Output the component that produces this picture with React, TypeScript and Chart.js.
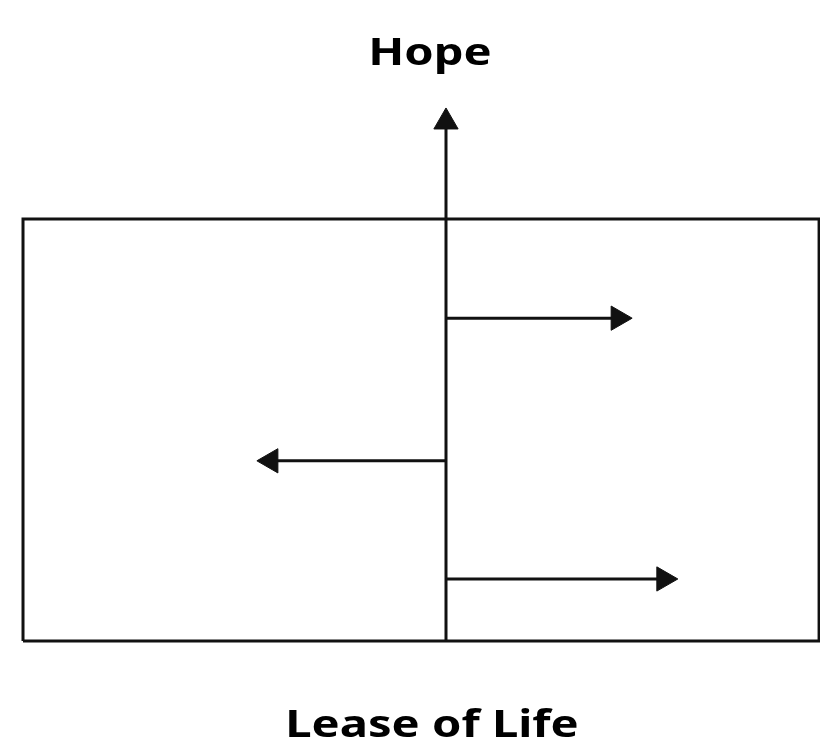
import React, { useEffect, useRef } from "react";
import { Chart, registerables } from "chart.js";

Chart.register(...registerables);

// Diagram values in abstract units: x = "Lease of Life" direction, y = "Hope" direction
const titleTop = "Hope";
const titleBottom = "Lease of Life";

const frameX = [-10, -10, 8.82, 8.82, -10];
const frameY = [0, 10, 10, 0, 0];

const stemX = [0, 0];
const stemY = [0, 12.3];

const arrowStartX = [0, 0, 0];
const arrowEndX = [4.07, -4.14, 5.15];
const arrowY = [7.65, 4.27, 1.47];

const xRange = [-10.544, 8.842];
const yRange = [-2.346, 15.19];

const INK = "#111111";

export default function App() {
  const canvasRef = useRef<HTMLCanvasElement | null>(null);

  useEffect(() => {
    document.body.style.margin = "0";
    const canvas = canvasRef.current;
    if (!canvas) return;

    const arrowDataset = (pts: { x: number; y: number }[], rotation: number) => ({
      data: pts,
      showLine: true,
      borderColor: INK,
      borderWidth: 3,
      pointRadius: (c: any) => (c.dataIndex === pts.length - 1 ? 14 : 0),
      pointHoverRadius: 0,
      pointStyle: "triangle" as const,
      pointRotation: rotation,
      pointBackgroundColor: INK,
      pointBorderColor: INK,
      pointBorderWidth: 1,
      clip: false as const,
    });

    const datasets: any[] = [
      {
        data: frameX.map((x, i) => ({ x, y: frameY[i] })),
        showLine: true,
        borderColor: INK,
        borderWidth: 3,
        pointRadius: 0,
        pointHoverRadius: 0,
        fill: false,
      },
      arrowDataset(
        stemX.map((x, i) => ({ x, y: stemY[i] })),
        0
      ),
      ...arrowEndX.map((ex, i) =>
        arrowDataset(
          [
            { x: arrowStartX[i], y: arrowY[i] },
            { x: ex, y: arrowY[i] },
          ],
          ex > arrowStartX[i] ? 90 : -90
        )
      ),
    ];

    const chart = new Chart(canvas, {
      type: "scatter",
      data: { datasets },
      options: {
        animation: false,
        responsive: false,
        maintainAspectRatio: false,
        layout: { padding: 0, autoPadding: false },
        events: [],
        plugins: {
          legend: { display: false },
          tooltip: { enabled: false },
          title: { display: false },
        },
        scales: {
          x: { type: "linear", display: false, min: xRange[0], max: xRange[1] },
          y: { type: "linear", display: false, min: yRange[0], max: yRange[1] },
        },
      },
    });
    return () => chart.destroy();
  }, []);

  const textStyle: React.CSSProperties = {
    position: "absolute",
    left: 0,
    width: 820,
    textAlign: "center",
    fontFamily: "'Noto Sans', 'Open Sans', sans-serif",
    fontWeight: 700,
    fontSize: 38,
    lineHeight: "38px",
    color: "#000",
    whiteSpace: "nowrap",
  };

  return (
    <div style={{ position: "relative", width: 820, height: 740, background: "#fff", overflow: "hidden" }}>
      <canvas ref={canvasRef} width={820} height={740} style={{ display: "block" }} />
      <div style={{ ...textStyle, top: 31, transform: "translateX(20px) scaleX(1.24)" }}>{titleTop}</div>
      <div style={{ ...textStyle, top: 703, transform: "translateX(22px) scaleX(1.24)" }}>{titleBottom}</div>
    </div>
  );
}
